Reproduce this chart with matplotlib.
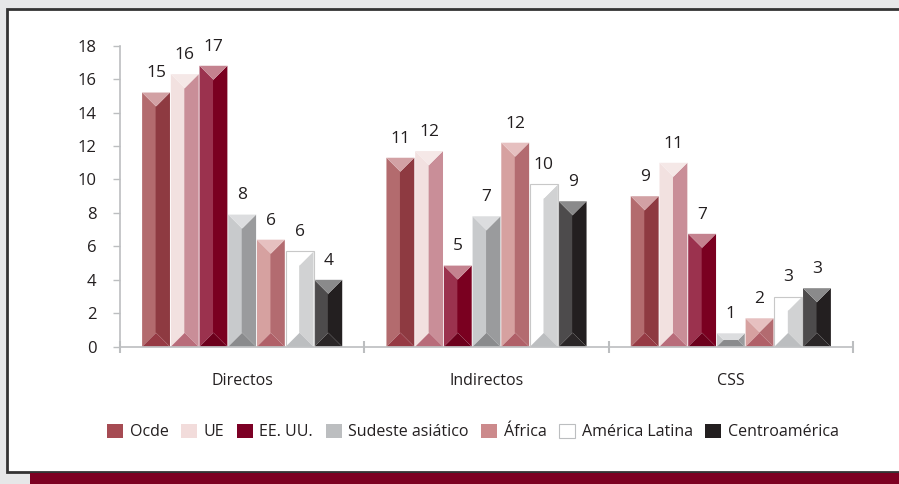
import matplotlib
matplotlib.use("Agg")
import matplotlib.pyplot as plt
from matplotlib.patches import Polygon, Rectangle, Patch

plt.rcParams['font.family'] = ['Open Sans', 'DejaVu Sans']

# datos
categorias = ['Directos', 'Indirectos', 'CSS']
series = ['Ocde', 'UE', 'EE. UU.', 'Sudeste asiático', 'África', 'América Latina', 'Centroamérica']
ocde = [15.2, 11.3, 9.0]
ue = [16.3, 11.7, 11.0]
eeuu = [16.8, 4.85, 6.75]
sudeste = [7.9, 7.8, 0.8]
africa = [6.4, 12.2, 1.7]
america_latina = [5.7, 9.7, 3.0]
centroamerica = [4.0, 8.7, 3.5]
etiquetas = [[15, 11, 9], [16, 12, 11], [17, 5, 7], [8, 7, 1], [6, 12, 2], [6, 10, 3], [4, 9, 3]]
valores = [ocde, ue, eeuu, sudeste, africa, america_latina, centroamerica]

# colores: cara izquierda, cara derecha, arriba, abajo, leyenda
colores = [
    ('#b36b6e', '#8e3a41', '#d2a1a4', '#963a44', '#a64b53'),
    ('#f2e1e0', '#c98e98', '#f5e8e7', '#b86c7a', '#f2dcdb'),
    ('#9b324e', '#7a0020', '#c4828f', '#6c001c', '#7c0025'),
    ('#c8cacc', '#9a9b9d', '#dcdddf', '#8a8b8d', '#bcbec0'),
    ('#d6a1a0', '#b36b70', '#e6c0c0', '#b06068', '#cc8a8c'),
    ('#ffffff', '#d1d2d3', '#ffffff', '#bcbec0', '#ffffff'),
    ('#4d4b4c', '#231f20', '#8a8a8b', '#2a2627', '#231f20'),
]
texto = '#231f20'
gris = '#bcbec0'

fig = plt.figure(figsize=(8.99, 4.84), dpi=100)
fig.patch.set_facecolor('#e6e7e8')
W, H = 899, 484
fig.patches.append(Rectangle((7 / W, 12 / H), 1.0, (472 - 9) / H, transform=fig.transFigure,
                             facecolor='white', edgecolor='#333333', lw=2, zorder=-2))
fig.patches.append(Rectangle((30 / W, 0), 1.0, 11 / H, transform=fig.transFigure,
                             facecolor='#7d0022', edgecolor='none', zorder=-1))

ax = fig.add_axes([120 / W, 137.3 / H, 733 / W, 301 / H])
ax.set_zorder(2)
ax.set_facecolor('none')
ax.set_xlim(-0.5, 2.5)
ax.set_ylim(0, 18)

ancho = 0.1175
# profundidad del bisel en pixeles
px_x = 733 / 3.0
px_y = 301 / 18.0
bisel_px = ancho * px_x / 2

for j, (vals, col) in enumerate(zip(valores, colores)):
    izq, der, arr, aba, _ = col
    for i, v in enumerate(vals):
        xc = i + (j - 3) * ancho
        w = ancho * 0.97
        x0, x1 = xc - w / 2, xc + w / 2
        d_px = min(bisel_px, v * px_y / 2)
        dy = d_px / px_y
        dx = (w * px_x / 2 - d_px) / px_x
        top, bot = v, 0
        ax.add_patch(Polygon([(x0, top), (xc - dx, top - dy), (xc - dx, bot + dy), (x0, bot)],
                             closed=True, fc=izq, ec='none', zorder=2))
        ax.add_patch(Polygon([(x1, top), (xc + dx, top - dy), (xc + dx, bot + dy), (x1, bot)],
                             closed=True, fc=der, ec='none', zorder=2))
        ax.add_patch(Polygon([(x0, top), (x1, top), (xc + dx, top - dy), (xc - dx, top - dy)],
                             closed=True, fc=arr, ec='none', zorder=2))
        ax.add_patch(Polygon([(x0, bot), (x1, bot), (xc + dx, bot + dy), (xc - dx, bot + dy)],
                             closed=True, fc=aba, ec='none', zorder=2))
        if izq == '#ffffff':
            ax.add_patch(Rectangle((x0, 0), w, v, fc='none', ec='#c8c8c8', lw=0.8, zorder=3))
        ax.annotate(str(etiquetas[j][i]), (xc, v), xytext=(0, 8), textcoords='offset points',
                    ha='center', va='bottom', fontsize=12.5, color=texto)

for s in ['top', 'right']:
    ax.spines[s].set_visible(False)
for s in ['left', 'bottom']:
    ax.spines[s].set_color(gris)
    ax.spines[s].set_linewidth(1.2)

ax.set_yticks(range(0, 19, 2))
ax.tick_params(axis='y', colors=gris, labelcolor=texto, labelsize=12, length=5, width=1, pad=12)
ax.set_xticks([-0.5, 0.5, 1.5, 2.5])
ax.set_xticklabels([])
ax.tick_params(axis='x', direction='inout', colors=gris, length=9, width=1.5)
for i, c in enumerate(categorias):
    ax.text(i, -1.6, c, ha='center', va='top', fontsize=11.5, color=texto)

handles = [Patch(fc=c[4], ec='#bcbec0' if c[4] == '#ffffff' else 'none', lw=0.8) for c in colores]
fig.legend(handles, series, loc='center', bbox_to_anchor=(473 / W, 1 - 432 / H), ncol=7,
           frameon=False, fontsize=11.5, handlelength=1.0, handleheight=1.0, handletextpad=0.4,
           columnspacing=0.8, labelcolor=texto)

fig.savefig('out.png', dpi=100, facecolor=fig.get_facecolor())
